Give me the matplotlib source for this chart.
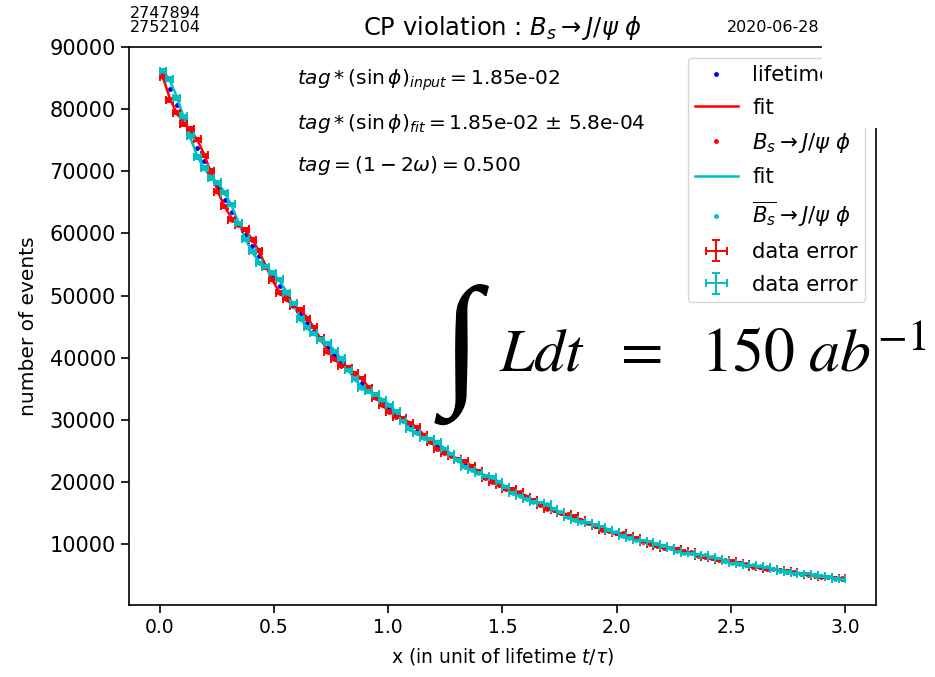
import numpy as np
import matplotlib
matplotlib.use("Agg")
import matplotlib.pyplot as plt
from matplotlib.patches import Rectangle

# ---------------- data ----------------
n_bins = 100
x_lo, x_hi = 0.0, 3.0
bin_w = (x_hi - x_lo) / n_bins
x = x_lo + bin_w * (np.arange(n_bins) + 0.5)   # bin centres

lifetime = [85705, 83172, 80714, 78329, 76014, 73768, 71588, 69472, 67419, 65427,
            63493, 61617, 59796, 58029, 56314, 54650, 53035, 51468, 49947, 48471,
            47038, 45648, 44299, 42990, 41720, 40487, 39290, 38129, 37002, 35909,
            34848, 33818, 32818, 31849, 30907, 29994, 29108, 28247, 27413, 26603,
            25816, 25053, 24313, 23595, 22897, 22221, 21564, 20927, 20308, 19708,
            19126, 18561, 18012, 17480, 16963, 16462, 15975, 15503, 15045, 14600,
            14169, 13750, 13344, 12950, 12567, 12196, 11835, 11485, 11146, 10817,
            10497, 10187, 9886, 9594, 9310, 9035, 8768, 8509, 8257, 8013,
            7777, 7547, 7324, 7107, 6897, 6694, 6496, 6304, 6118, 5937,
            5762, 5591, 5426, 5266, 5110, 4959, 4812, 4670, 4532, 4398]

bs_fit = [85085, 81735, 79363, 77862, 76661, 75077, 72742, 69795, 66765, 64244,
          62517, 61414, 60449, 59092, 57135, 54755, 52403, 50518, 49262, 48444,
          47648, 46493, 44863, 42954, 41141, 39740, 38831, 38213, 37548, 36565,
          35217, 33697, 32308, 31276, 30615, 30142, 29581, 28745, 27639, 26438,
          25380, 24622, 24143, 23772, 23295, 22590, 21686, 20744, 19947, 19393,
          19043, 18747, 18339, 17746, 17014, 16280, 15682, 15280, 15021, 14777,
          14431, 13936, 13347, 12780, 12335, 12043, 11848, 11647, 11351, 10941,
          10471, 10035, 9706, 9495, 9346, 9177, 8925, 8587, 8214, 7882,
          7640, 7487, 7372, 7228, 7015, 6739, 6446, 6194, 6017, 5905,
          5814, 5691, 5512, 5287, 5058, 4869, 4740, 4657, 4583, 4479]

bsbar_fit = [86325, 84609, 82065, 78796, 75367, 72459, 70434, 69149, 68073, 66610,
             64469, 61820, 59143, 56966, 55493, 54545, 53667, 52418, 50632, 48498,
             46428, 44803, 43735, 43026, 42299, 41234, 39749, 38045, 36456, 35253,
             34479, 33939, 33328, 32422, 31199, 29846, 28635, 27749, 27187, 26768,
             26252, 25484, 24483, 23418, 22499, 21852, 21442, 21110, 20669, 20023,
             19209, 18375, 17685, 17214, 16912, 16644, 16268, 15726, 15069, 14423,
             13907, 13564, 13341, 13120, 12799, 12349, 11822, 11323, 10941, 10693,
             10523, 10339, 10066, 9693, 9274, 8893, 8611, 8431, 8300, 8144,
             7914, 7607, 7276, 6986, 6779, 6649, 6546, 6414, 6219, 5969,
             5710, 5491, 5340, 5245, 5162, 5049, 4884, 4683, 4481, 4317]

bs_data = [85235, 81495, 79453, 77552, 76861, 75117, 72562, 70055, 66695, 64374,
           62227, 61434, 60659, 58952, 57215, 54525, 52573, 50458, 49512, 48334,
           47768, 46303, 44923, 43124, 40931, 39770, 38691, 38413, 37468, 36715,
           35197, 33527, 32418, 31336, 30415, 30322, 29491, 28875, 27489, 26478,
           25250, 24712, 24183, 23622, 23415, 22530, 21826, 20644, 19967, 19543,
           18923, 18817, 18309, 17606, 17124, 16330, 15592, 15410, 14951, 14787,
           14511, 13836, 13387, 12890, 12265, 12063, 11738, 11737, 11311, 11041,
           10391, 10095, 9686, 9395, 9416, 9207, 8835, 8697, 8164, 7902,
           7700, 7417, 7402, 7308, 6965, 6749, 6366, 6254, 5987, 5975,
           5754, 5731, 5502, 5217, 5108, 4889, 4680, 4727, 4543, 4489]

bsbar_data = [86205, 84809, 81805, 78856, 75667, 72309, 70524, 68939, 68243, 66570,
              64699, 61640, 59073, 57106, 55233, 54655, 53647, 52608, 50482, 48738,
              46268, 44893, 43915, 42906, 42339, 41034, 39899, 37985, 36646, 35123,
              34559, 34079, 33148, 32442, 31359, 29746, 28495, 27949, 27147, 26878,
              26352, 25344, 24543, 23538, 22409, 22002, 21412, 21000, 20809, 19963,
              19229, 18245, 17795, 17294, 16762, 16684, 16388, 15646, 15099, 14303,
              13817, 13634, 13451, 13060, 12829, 12239, 11912, 11303, 11041, 10623,
              10563, 10419, 9966, 9703, 9364, 8833, 8531, 8531, 8270, 8214,
              7854, 7657, 7346, 6946, 6799, 6579, 6606, 6404, 6289, 5919,
              5740, 5551, 5270, 5255, 5222, 5009, 4834, 4753, 4461, 4367]

x_ticks = [0.0, 0.5, 1.0, 1.5, 2.0, 2.5, 3.0]
y_ticks = [10000, 20000, 30000, 40000, 50000, 60000, 70000, 80000, 90000]

# ---------------- figure ----------------
W, H = 935, 677
fig = plt.figure(figsize=(W / 100, H / 100), dpi=100)
ax = fig.add_axes([129 / W, 1 - 605 / H, (876 - 129) / W, (605 - 47) / H])

ax.plot(x, lifetime, 'b.', ms=5, label='lifetime')
ax.plot(x, bs_fit, 'r-', lw=1.8, label='fit')
ax.plot(x, bs_data, 'r.', ms=5, label=r'$B_s \rightarrow J/\psi\ \phi$')
ax.plot(x, bsbar_fit, 'c-', lw=1.8, label='fit')
ax.plot(x, bsbar_data, 'c.', ms=5, label=r'$\overline{B_s} \rightarrow J/\psi\ \phi$')
ax.errorbar(x, bs_data, xerr=bin_w / 2, yerr=np.sqrt(bs_data), fmt='none',
            ecolor='r', elinewidth=1.4, capsize=2.8, capthick=1.4, label='data error')
ax.errorbar(x, bsbar_data, xerr=bin_w / 2, yerr=np.sqrt(bsbar_data), fmt='none',
            ecolor='c', elinewidth=1.4, capsize=2.8, capthick=1.4, label='data error')

ax.set_xlim(-0.1335, 3.1335)
ax.set_ylim(200, 90000)
ax.set_xticks(x_ticks)
ax.set_yticks(y_ticks)
ax.tick_params(axis='y', labelsize=15, length=6, width=1.2)
ax.tick_params(axis='x', labelsize=13.5, length=6, width=1.2)
for s in ax.spines.values():
    s.set_linewidth(1.2)

ax.set_xlabel(r'x (in unit of lifetime $t/\tau$)', fontsize=13.5, labelpad=6)
ax.set_ylabel('number of events', fontsize=14.5, labelpad=8)
ax.set_title(r'CP violation : $B_s \rightarrow J/\psi\ \phi$', fontsize=17.5, pad=9)

ax.text(0.6, 84700, r'$tag*(\sin\phi)_{input}=$1.85e-02', fontsize=14.5, va='center')
ax.text(0.6, 77700, r'$tag*(\sin\phi)_{fit}=$1.85e-02 $\pm$ 5.8e-04', fontsize=14.5, va='center')
ax.text(0.6, 71000, r'$tag=(1-2\omega)=$0.500', fontsize=14.5, va='center')

ax.legend(loc='upper right', fontsize=15.3, framealpha=0.8, labelspacing=0.6,
          handletextpad=0.7, borderpad=0.35)

fig.text(130 / W, 1 - 6 / H, '2747894\n2752104', fontsize=11.5, va='top', ha='left',
         linespacing=0.95)
fig.text(820 / W, 1 - 27 / H, '2020-06-28', fontsize=11.5, va='center', ha='right')

# white patch covering the top-right corner
fig.add_artist(Rectangle((822 / W, 1 - 128 / H), 1 - 822 / W, 128 / H,
                         transform=fig.transFigure, facecolor='white',
                         edgecolor='none', zorder=10))

# integrated luminosity annotation
fig.text(442 / W, 1 - 354 / H, '\u222b', fontsize=104,
         family=['Liberation Serif', 'DejaVu Serif'],
         ha='left', va='center', zorder=11)
fig.text(499 / W, 1 - 372 / H, r'$Ldt\ \ =\ \ 150\ ab^{-1}$', fontsize=44.5,
         math_fontfamily='stix', ha='left', va='baseline', zorder=11)

fig.savefig('out.png', dpi=100)
